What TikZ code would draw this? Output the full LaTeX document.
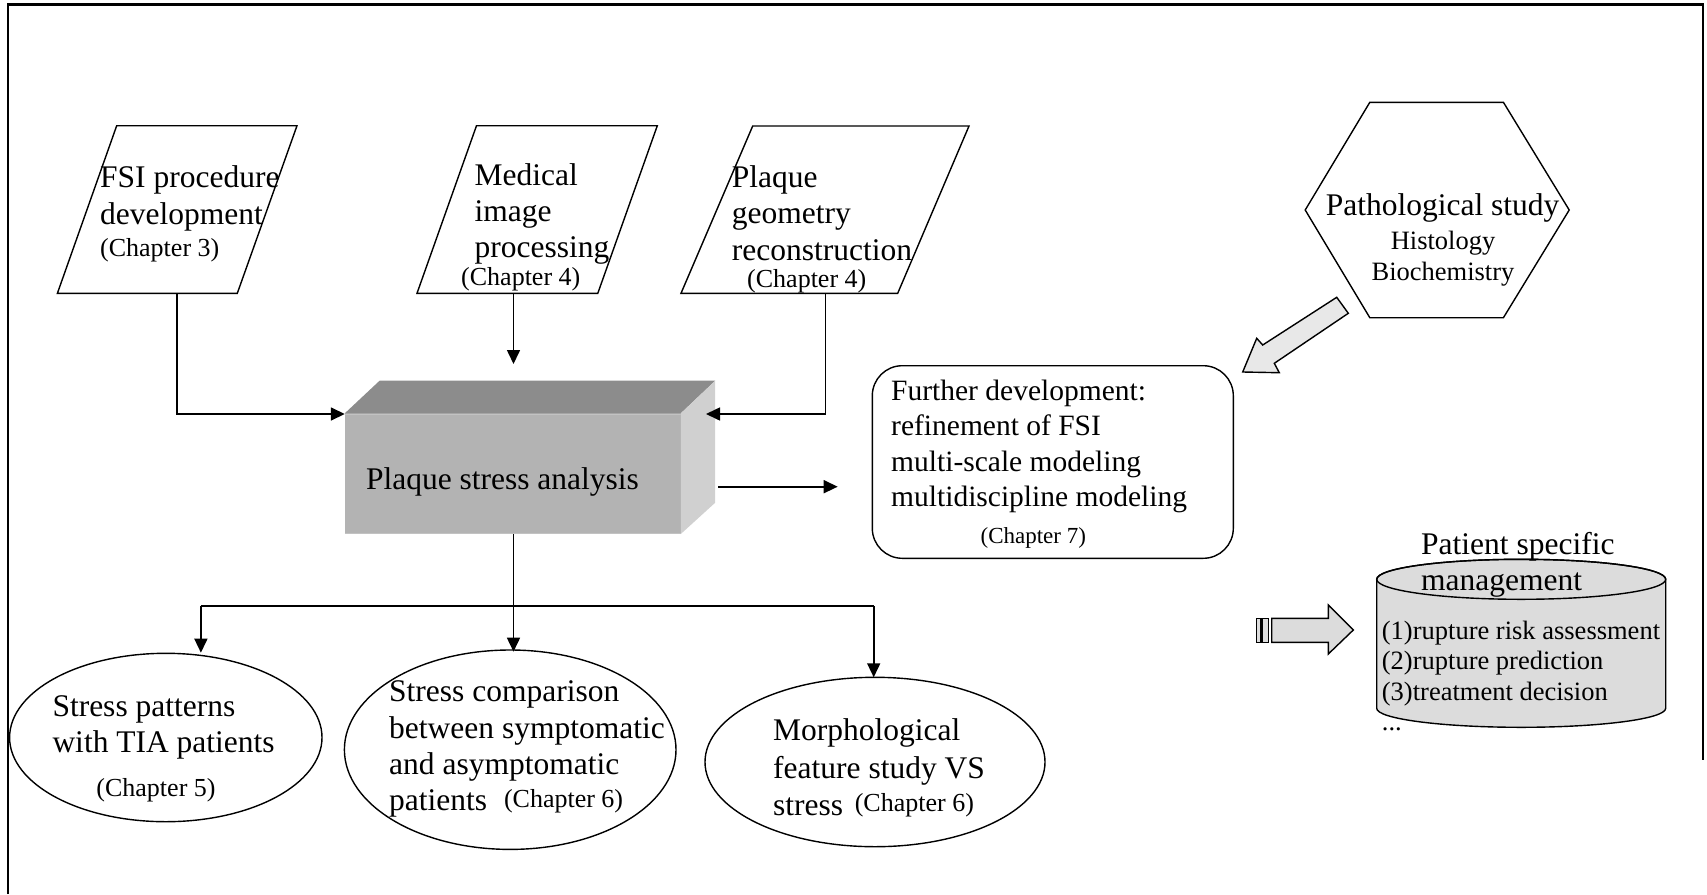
\documentclass[tikz,border=0pt]{standalone}
\usepackage{fontspec}
\setmainfont{Liberation Serif}
\usetikzlibrary{arrows.meta,shapes.geometric}
\definecolor{topface}{HTML}{8C8C8C}
\definecolor{frontface}{HTML}{B3B3B3}
\definecolor{sideface}{HTML}{D0D0D0}
\definecolor{arrowfill}{HTML}{E8E8E8}
\definecolor{cylfill}{HTML}{DCDCDC}
\begin{document}
\begin{tikzpicture}[x=1pt,y=1pt,
  shapeline/.style={line width=1.4pt},
  conn/.style={line width=1.6pt},
  tip/.style={line width=1.6pt,-{Triangle[length=14pt,width=13pt]}},
  txt/.style={inner sep=0pt,align=left,anchor=west},
  ctxt/.style={inner sep=0pt,align=center},
  big/.style={font=\fontsize{31.5pt}{36.4pt}\selectfont},
  mid/.style={font=\fontsize{29.5pt}{35.5pt}\selectfont},
  small/.style={font=\fontsize{26pt}{30.5pt}\selectfont},
  tiny/.style={font=\fontsize{23pt}{27pt}\selectfont},
  ell/.style={draw,shapeline,ellipse,inner sep=0pt}]
\useasboundingbox (0,0) rectangle (1707,-894);
% frame
\draw[line width=2.5pt] (8,-894) -- (8,-4.7) -- (1703,-4.7) -- (1703,-760);

% parallelograms
\draw[shapeline] (116.7,-125.7) -- (297,-125.7) -- (237.3,-293.3) -- (57.4,-293.3) -- cycle;
\draw[shapeline] (476.5,-125.7) -- (657.3,-125.7) -- (597.8,-293.3) -- (417,-293.3) -- cycle;
\draw[shapeline] (752.7,-126) -- (969,-126) -- (897.7,-293.3) -- (681,-293.3) -- cycle;
\coordinate (p1b) at (176.8,-293.3);
\coordinate (p2b) at (513.5,-293.3);
\coordinate (p3b) at (825.3,-293.3);
\node[txt,big] (t1) at (100,-198.5) {FSI procedure\\development};
\node[txt,small] (t1c) at (100,-250) {(Chapter 3)};
\node[txt,big] (t2) at (474.5,-214) {Medical\\image\\processing};
\node[txt,small] (t2c) at (461,-279) {(Chapter 4)};
\node[txt,big] (t3) at (731.7,-213) {Plaque\\geometry\\reconstruction};
\node[txt,small] (t3c) at (747,-281) {(Chapter 4)};

% hexagon
\draw[shapeline] (1369.8,-102.3) -- (1503.4,-102.3) -- (1569.2,-210) -- (1503.4,-317.7) -- (1369.8,-317.7) -- (1305.2,-210) -- cycle;
\node[ctxt,big] (h1) at (1442.6,-208) {Pathological study};
\node[ctxt,font=\fontsize{26.5pt}{31.6pt}\selectfont] (h2) at (1443,-258.5) {Histology\\Biochemistry};

% gray block arrow down-left
\filldraw[shapeline,fill=arrowfill] (1336.7,-297.3) -- (1262.7,-345) -- (1256.7,-338.3) -- (1242.7,-372) -- (1279.3,-372.7) -- (1274.3,-363.3) -- (1348.3,-313.3) -- cycle;

% rounded rectangle
\draw[shapeline,rounded corners=30pt] (872.3,-365.7) rectangle (1233.3,-558.3);
\coordinate (rrw) at (837.7,-486.7);
\node[txt,mid] (f1) at (891,-446.5) {Further development:\\refinement of FSI\\multi-scale modeling\\multidiscipline modeling};
\node[ctxt,tiny] (f2) at (1033.3,-538.3) {(Chapter 7)};

% 3D box
\fill[frontface] (344.8,-413.3) rectangle (680.8,-534);
\fill[topface] (344.8,-413.3) -- (379.6,-380.7) -- (715.2,-380.7) -- (680.8,-413.3) -- cycle;
\fill[sideface] (680.8,-413.3) -- (715.2,-380.7) -- (715.2,-502.7) -- (680.8,-534) -- cycle;
\draw[line width=1pt,color=frontface!80!white] (344.8,-414) -- (680.8,-414);
\draw[line width=1pt,color=frontface!80!white] (344.8,-533.5) -- (680.8,-533.5);
\coordinate (bxw) at (344.8,-414);
\coordinate (bxe) at (706,-414);
\coordinate (bxn) at (513.5,-364);
\coordinate (bxs) at (513.5,-534);
\coordinate (bxr) at (718.3,-486.7);
\node[txt,big] (bt) at (365.8,-481.7) {Plaque stress analysis};

% connectors
\draw[tip] (p1b) |- (bxw);
\draw[tip] (p2b) -- (bxn);
\draw[tip] (p3b) |- (bxe);
\draw[tip] (bxr) -- (rrw);
\coordinate (junc) at (513.5,-606);
\coordinate (jl) at (200.9,-606);
\coordinate (jr) at (873.7,-606);
\draw[conn] (bxs) -- (junc);
\draw[conn] (jl) -- (jr);
\coordinate (e1t) at (200.9,-652.7);
\coordinate (e2t) at (513.5,-651.7);
\coordinate (e3t) at (873.7,-677.3);
\draw[tip] (jl) -- (e1t);
\draw[tip] (junc) -- (e2t);
\draw[tip] (jr) -- (e3t);

% ellipses
\node[ell,minimum width=312.4pt,minimum height=168.4pt] (e1) at (165.8,-737.5) {};
\node[ell,minimum width=331.6pt,minimum height=199.4pt] (e2) at (510.2,-749.7) {};
\node[ell,minimum width=340pt,minimum height=169.4pt] (e3) at (875,-762) {};
\node[txt,big] (e1a) at (52.3,-727.5) {Stress patterns\\with TIA patients};
\node[ctxt,small] (e1b) at (156,-790) {(Chapter 5)};
\node[txt,big] (e2a) at (389,-749.2) {Stress comparison\\between symptomatic\\and asymptomatic\\patients};
\node[txt,small] (e2b) at (503.8,-801.7) {(Chapter 6)};
\node[txt,font=\fontsize{31.5pt}{37.5pt}\selectfont] (e3a) at (773,-767.5) {Morphological\\feature study VS\\stress};
\node[txt,small] (e3b) at (854.6,-805) {(Chapter 6)};

% right block arrow
\filldraw[line width=1.2pt,fill=cylfill] (1256.7,-618.3) rectangle (1261,-642.3);
\filldraw[line width=1.2pt,fill=cylfill] (1262.7,-618.3) rectangle (1268.3,-642.3);
\filldraw[shapeline,fill=cylfill] (1271.7,-618.3) -- (1328.3,-618.3) -- (1328.3,-605) -- (1353.3,-630) -- (1328.3,-654) -- (1328.3,-642.3) -- (1271.7,-642.3) -- cycle;

% cylinder
\filldraw[shapeline,fill=cylfill] (1376.7,-579.3) -- (1376.7,-708.3) arc[start angle=180,end angle=360,x radius=144.5pt,y radius=19pt] -- (1665.7,-579.3) arc[start angle=0,end angle=180,x radius=144.5pt,y radius=20pt] -- cycle;
\draw[shapeline] (1521.2,-579.3) ellipse[x radius=144.5pt,y radius=20pt];
\node[txt,big] (c1) at (1421,-565) {Patient specific\\management};
\node[txt,font=\fontsize{26.5pt}{30.5pt}\selectfont] (c2) at (1381.7,-676) {(1)rupture risk assessment\\(2)rupture prediction\\(3)treatment decision\\...};
\end{tikzpicture}
\end{document}
